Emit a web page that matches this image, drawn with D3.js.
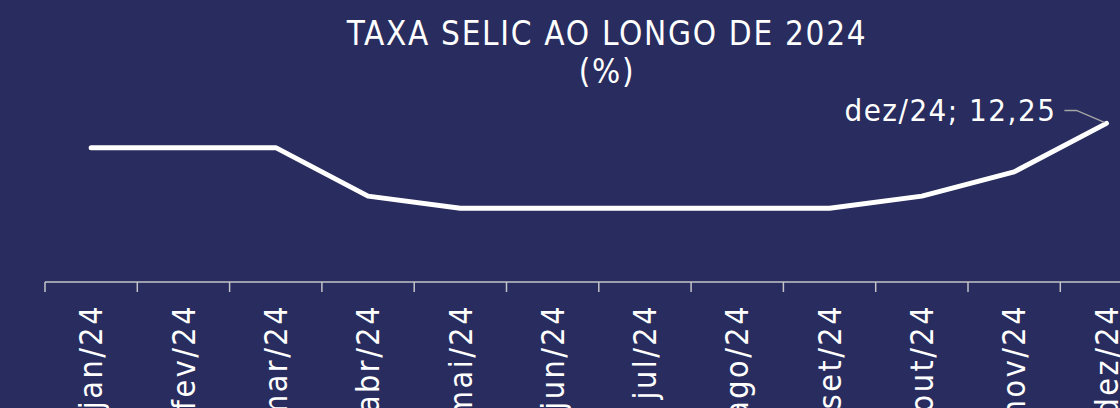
<!DOCTYPE html>
<html>
<head>
<meta charset="utf-8">
<script src="https://cdn.jsdelivr.net/npm/d3@7"></script>
<style>
  html, body { margin: 0; padding: 0; background: #282c5e; }
  svg { display: block; }
  text { font-family: "Liberation Sans Narrow", "DejaVu Sans Condensed", sans-serif; fill: #ffffff; }
</style>
</head>
<body>
<div id="chart"></div>
<script>
// dados
var months = ["jan/24", "fev/24", "mar/24", "abr/24", "mai/24", "jun/24",
  "jul/24", "ago/24", "set/24", "out/24", "nov/24", "dez/24"];
var selic = [11.75, 11.75, 11.75, 10.75, 10.50, 10.50, 10.50, 10.50, 10.50, 10.75, 11.25, 12.25];
var titleLines = ["TAXA SELIC AO LONGO DE 2024", "(%)"];

var WIDTH = 1120;
var HEIGHT = 408;
var AXIS_Y = 282;

var svg = d3.select("#chart")
  .append("svg")
  .attr("width", WIDTH)
  .attr("height", HEIGHT);

svg.append("rect")
  .attr("width", WIDTH)
  .attr("height", HEIGHT)
  .attr("fill", "#282c5e");

// escalas
var xScale = d3.scaleBand()
  .domain(months)
  .range([45, 45 + 12 * 92.3]);

var yScale = d3.scaleLinear()
  .domain([9, 13])
  .range([AXIS_Y - 1, 87]);

// título
svg.selectAll(".title")
  .data(titleLines)
  .enter()
  .append("text")
  .attr("class", "title")
  .attr("x", 607)
  .attr("y", function (d, i) { return 45 + i * 38; })
  .attr("text-anchor", "middle")
  .style("font-size", "33px")
  .style("letter-spacing", "1.7px")
  .text(function (d) { return d; });

// eixo x
svg.append("line")
  .attr("x1", xScale.range()[0])
  .attr("x2", xScale.range()[1])
  .attr("y1", AXIS_Y)
  .attr("y2", AXIS_Y)
  .attr("stroke", "#c3c3c8")
  .attr("stroke-width", 1.5);

var bounds = months.map(function (d) { return xScale(d); }).concat([xScale.range()[1]]);
svg.selectAll(".tick-line")
  .data(bounds)
  .enter()
  .append("line")
  .attr("class", "tick-line")
  .attr("x1", function (d) { return d; })
  .attr("x2", function (d) { return d; })
  .attr("y1", AXIS_Y)
  .attr("y2", AXIS_Y + 10)
  .attr("stroke", "#c3c3c8")
  .attr("stroke-width", 1.5);

svg.selectAll(".month-label")
  .data(months)
  .enter()
  .append("text")
  .attr("class", "month-label")
  .attr("transform", function (d) {
    return "translate(" + (xScale(d) + xScale.bandwidth() / 2) + "," + (AXIS_Y + 22) + ") rotate(-90)";
  })
  .attr("dy", "0.35em")
  .attr("text-anchor", "end")
  .style("font-size", "32px")
  .style("letter-spacing", "2.5px")
  .text(function (d) { return d; });

// linha
var line = d3.line()
  .x(function (d, i) { return xScale(months[i]) + xScale.bandwidth() / 2; })
  .y(function (d) { return yScale(d); });

svg.append("path")
  .datum(selic)
  .attr("d", line)
  .attr("fill", "none")
  .attr("stroke", "#ffffff")
  .attr("stroke-width", 5)
  .attr("stroke-linecap", "round")
  .attr("stroke-linejoin", "round");

// rótulo do último ponto
var last = selic.length - 1;
var lx = xScale(months[last]) + xScale.bandwidth() / 2;
var ly = yScale(selic[last]);

svg.append("path")
  .attr("d", "M" + (lx - 2) + "," + (ly - 1) + "L" + (lx - 30) + "," + (ly - 13) + "L" + (lx - 42) + "," + (ly - 13))
  .attr("fill", "none")
  .attr("stroke", "#a6a6a6")
  .attr("stroke-width", 1.5);

svg.append("text")
  .attr("x", lx - 50)
  .attr("y", ly - 13)
  .attr("dy", "0.35em")
  .attr("text-anchor", "end")
  .style("font-size", "31px")
  .style("letter-spacing", "1.5px")
  .text(months[last] + "; " + d3.format(".2f")(selic[last]).replace(".", ","));
</script>
</body>
</html>
